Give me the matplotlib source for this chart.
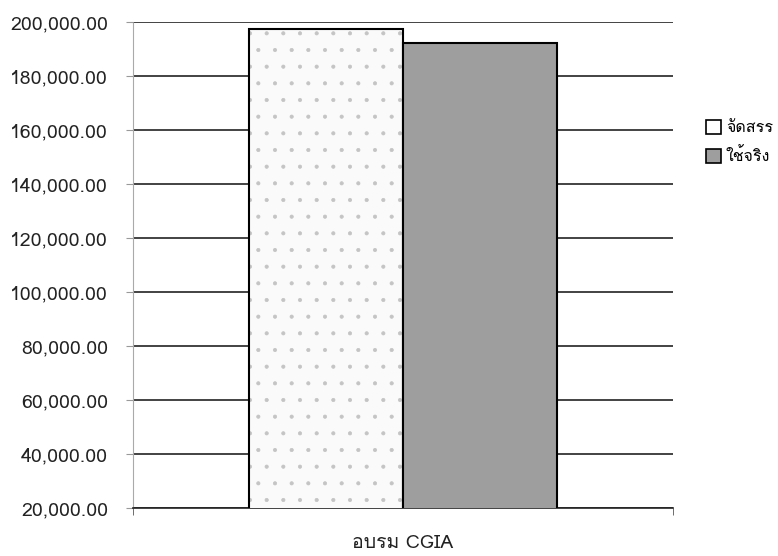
import numpy as np
import matplotlib
matplotlib.use("Agg")
import matplotlib.pyplot as plt
from matplotlib import font_manager
from matplotlib.ft2font import FT2Font
from matplotlib.patches import Patch

# find an installed family that has Thai glyphs
thaiFamilies = []
for f in font_manager.fontManager.ttflist:
    try:
        if 0x0E08 in FT2Font(f.fname).get_charmap():
            if f.name not in thaiFamilies:
                thaiFamilies.append(f.name)
    except Exception:
        pass
plt.rcParams['font.family'] = thaiFamilies[:1] + ['DejaVu Sans']
plt.rcParams['hatch.color'] = "#b8b8b8"
plt.rcParams['hatch.linewidth'] = 0.5

categories = ["อบรม CGIA"]
seriesNames = ["จัดสรร", "ใช้จริง"]
allocated = [197400]
used = [192200]
yTicks = np.arange(20000, 200001, 20000)

fig = plt.figure(figsize=(7.78, 5.56), dpi=100)
ax = fig.add_axes([133 / 778, 1 - 508 / 556, 540 / 778, 486 / 556])

x = np.arange(len(categories))
width = 0.285
b1 = ax.bar(x - width / 2, allocated, width, bottom=0, facecolor="#fafafa", edgecolor="black",
            linewidth=1.5, hatch=".", zorder=3)
b2 = ax.bar(x + width / 2, used, width, bottom=0, facecolor="#9e9e9e", edgecolor="black",
            linewidth=1.5, zorder=3)
for p in b1:
    p._hatch_color = matplotlib.colors.to_rgba("#c4c4c4")

ax.set_xlim(-0.5, 0.5)
ax.set_ylim(20000, 200000)
ax.set_yticks(yTicks)
ax.set_yticklabels([f"{v:,.2f}" for v in yTicks])
ax.yaxis.grid(True, color="#222222", linewidth=1.2, zorder=0)
ax.set_xticks(x)
ax.set_xticklabels(categories)
ax.set_xticks([-0.5, 0.5], minor=True)
ax.tick_params(axis="x", which="major", length=0, pad=19, labelsize=14, colors="#222222")
ax.tick_params(axis="x", which="minor", length=5, color="#555555")
ax.tick_params(axis="y", length=5, pad=13, labelsize=14, colors="#222222", color="#999999")

for s in ["top", "right"]:
    ax.spines[s].set_visible(False)
ax.spines["left"].set_color("#aaaaaa")
ax.spines["left"].set_linestyle((0, (1, 1)))
ax.spines["bottom"].set_color("#222222")
ax.spines["bottom"].set_linewidth(1.2)

handles = [Patch(facecolor="white", edgecolor="black", linewidth=1.2),
           Patch(facecolor="#9e9e9e", edgecolor="black", linewidth=1.2)]
fig.legend(handles, seriesNames, loc="upper left", bbox_to_anchor=(698 / 778, 1 - 112 / 556),
           frameon=False, fontsize=11.5, handlelength=0.95, handleheight=0.95,
           handletextpad=0.3, labelspacing=0.75, borderpad=0)

fig.savefig("out.png", dpi=100)
